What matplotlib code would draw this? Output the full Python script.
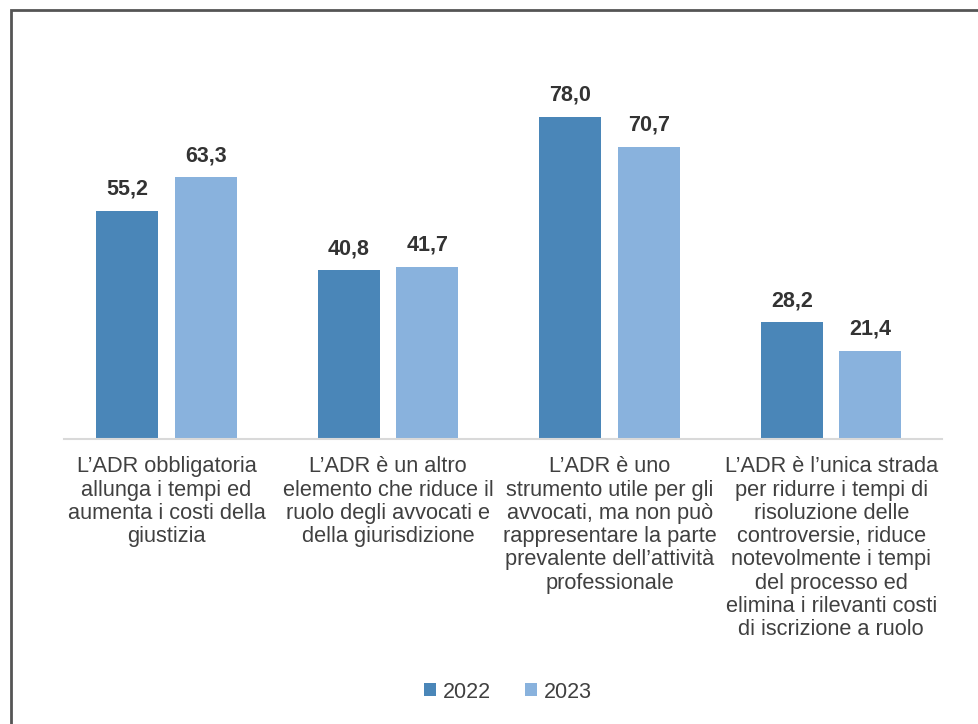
# -*- coding: utf-8 -*-
import matplotlib.pyplot as plt
import numpy as np
from matplotlib.patches import Rectangle

plt.rcParams['font.family'] = ['Liberation Sans', 'DejaVu Sans']

labels = [u'L\u2019ADR obbligatoria\nallunga i tempi ed\naumenta i costi della\ngiustizia',
          u'L\u2019ADR è un altro\nelemento che riduce il\nruolo degli avvocati e\ndella giurisdizione',
          u'L\u2019ADR è uno\nstrumento utile per gli\navvocati, ma non può\nrappresentare la parte\nprevalente dell\u2019attività\nprofessionale',
          u'L\u2019ADR è l\u2019unica strada\nper ridurre i tempi di\nrisoluzione delle\ncontroversie, riduce\nnotevolmente i tempi\ndel processo ed\nelimina i rilevanti costi\ndi iscrizione a ruolo']
v2022 = [55.2, 40.8, 78.0, 28.2]
v2023 = [63.3, 41.7, 70.7, 21.4]
years = ['2022', '2023']

c1 = '#4A86B8'
c2 = '#89B2DD'

fig = plt.figure(figsize=(9.79, 7.24), dpi=100)
ax = fig.add_axes([64/979, 285/724, 878/979, 372/724])

x = np.arange(len(labels))
w = 0.28
off = 0.177
b1 = ax.bar(x - off, v2022, w, color=c1, label=years[0])
b2 = ax.bar(x + off, v2023, w, color=c2, label=years[1])

for bars in (b1, b2):
    for b in bars:
        h = b.get_height()
        ax.annotate(('%.1f' % h).replace('.', ','), (b.get_x() + b.get_width()/2, h),
                    xytext=(0, 11.5), textcoords='offset points',
                    ha='center', va='baseline', fontsize=15.5,
                    fontweight='bold', color='#333333')

ax.set_xlim(-0.463, 3.50)
ax.set_ylim(0, 90)
ax.set_yticks([])
ax.set_xticks(x)
ax.set_xticklabels(labels, fontsize=15.7, color='#404040', linespacing=1.14)
ax.tick_params(axis='x', length=0, pad=12.5)
for s in ['top', 'right', 'left']:
    ax.spines[s].set_visible(False)
ax.spines['bottom'].set_color('#D9D9D9')
ax.spines['bottom'].set_linewidth(1.5)

fig.legend(loc='center', bbox_to_anchor=(508/979, 32/724), ncol=2, frameon=False,
           fontsize=15.5, labelcolor='#404040', handlelength=0.55, handleheight=0.55,
           handletextpad=0.3, columnspacing=1.6)

# outer frame, open on the right and bottom
frame = Rectangle((11/979, -0.2), 1.1, (724 - 10)/724 + 0.2, transform=fig.transFigure,
                  fill=False, edgecolor='#555555', linewidth=2, zorder=10, clip_on=False)
fig.patches.append(frame)

fig.savefig('out.png', dpi=100)
